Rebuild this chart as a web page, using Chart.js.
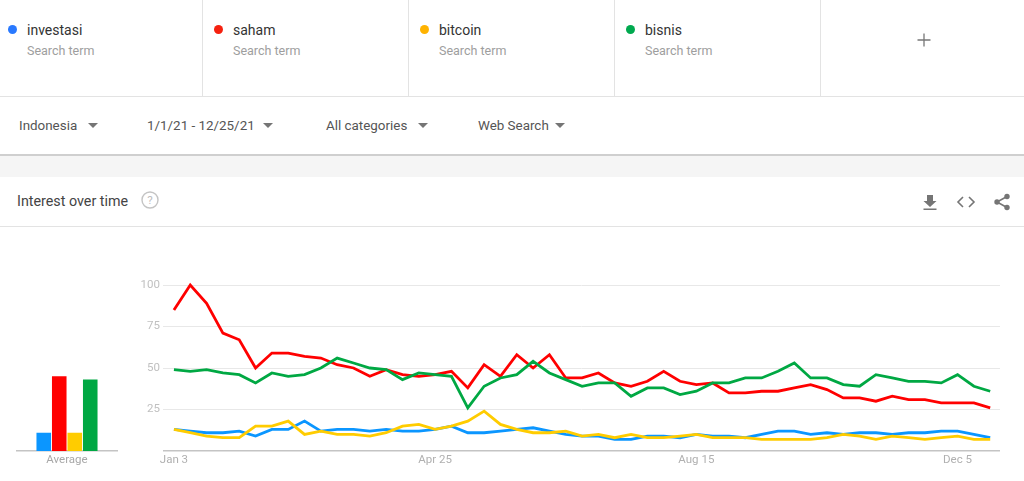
<!DOCTYPE html>
<html>
<head>
<meta charset="utf-8">
<title>Interest over time</title>
<script src="https://cdn.jsdelivr.net/npm/chart.js@4/dist/chart.umd.min.js"></script>
<style>
  html, body { margin: 0; padding: 0; background: #fff; overflow: hidden; }
  body { width: 1024px; height: 481px; position: relative; font-family: Roboto, sans-serif; }
  .abs { position: absolute; white-space: nowrap; }
  .line { position: absolute; background: #e3e3e3; }
  .term { font-size: 14px; line-height: 16px; top: 22px; color: #333; }
  .sub { font-size: 12.5px; line-height: 16px; top: 43px; color: #9e9e9e; }
  .dot { position: absolute; top: 25px; width: 9px; height: 9px; border-radius: 50%; }
  .filter { font-size: 13.4px; line-height: 16px; top: 118px; color: #555; }
  .tri { position: absolute; top: 123px; width: 0; height: 0; border-left: 5px solid transparent; border-right: 5px solid transparent; border-top: 5px solid #757575; }
  canvas { position: absolute; }
</style>
</head>
<body>
  <div class="dot" style="left:7.5px;background:#2979ff"></div>
  <div class="abs term" style="left:27px">investasi</div>
  <div class="abs sub" style="left:27px">Search term</div>
  <div class="dot" style="left:213.5px;background:#f5210f"></div>
  <div class="abs term" style="left:233px">saham</div>
  <div class="abs sub" style="left:233px">Search term</div>
  <div class="dot" style="left:420px;background:#ffb300"></div>
  <div class="abs term" style="left:439px">bitcoin</div>
  <div class="abs sub" style="left:439px">Search term</div>
  <div class="dot" style="left:626px;background:#00a94f"></div>
  <div class="abs term" style="left:645px">bisnis</div>
  <div class="abs sub" style="left:645px">Search term</div>

  <div class="line" style="left:202px;top:0;width:1px;height:96px"></div>
  <div class="line" style="left:408px;top:0;width:1px;height:96px"></div>
  <div class="line" style="left:614px;top:0;width:1px;height:96px"></div>
  <div class="line" style="left:820px;top:0;width:1px;height:96px"></div>
  <div class="line" style="left:0;top:96px;width:1024px;height:1px"></div>
  <svg class="abs" style="left:917px;top:33px" width="14" height="14"><path d="M7 0.5V13.5M0.5 7H13.5" stroke="#777" stroke-width="1.3" fill="none"/></svg>

  <div class="abs filter" style="left:19px">Indonesia</div>
  <div class="tri" style="left:88px"></div>
  <div class="abs filter" style="left:147px">1/1/21 - 12/25/21</div>
  <div class="tri" style="left:263px"></div>
  <div class="abs filter" style="left:326px">All categories</div>
  <div class="tri" style="left:418px"></div>
  <div class="abs filter" style="left:478px">Web Search</div>
  <div class="tri" style="left:555px"></div>

  <div class="line" style="left:0;top:154px;width:1024px;height:2px;background:#cfcfcf"></div>
  <div class="line" style="left:0;top:156px;width:1024px;height:21px;background:#f5f5f5"></div>

  <div class="abs" style="left:17px;top:193px;font-size:14.3px;line-height:16px;color:#444">Interest over time</div>
  <svg class="abs" style="left:141px;top:191px" width="18" height="18">
    <circle cx="9" cy="9" r="8" stroke="#c4c4c4" stroke-width="1.4" fill="none"/>
    <text x="9" y="13" font-size="11.5" font-family="Roboto" text-anchor="middle" fill="#bdbdbd">?</text>
  </svg>
  <svg class="abs" style="left:922px;top:194px" width="16" height="17"><path d="M5 1H11V7H14.5L8 13L1.5 7H5ZM1.5 14.5H14.5V16H1.5Z" fill="#757575"/></svg>
  <svg class="abs" style="left:956px;top:195px" width="20" height="14"><path d="M7 2L2 7L7 12M13 2L18 7L13 12" stroke="#757575" stroke-width="1.6" fill="none"/></svg>
  <svg class="abs" style="left:993px;top:193px" width="18" height="18">
    <path d="M14 3.5L4 9L14 14.5" stroke="#757575" stroke-width="1.6" fill="none"/>
    <circle cx="14" cy="3.5" r="2.7" fill="#757575"/><circle cx="4" cy="9" r="2.7" fill="#757575"/><circle cx="14" cy="14.5" r="2.7" fill="#757575"/>
  </svg>
  <div class="line" style="left:0;top:226px;width:1024px;height:1px"></div>

  <canvas id="avgChart" width="120" height="211" style="left:0;top:270px"></canvas>
  <canvas id="timeChart" width="904" height="211" style="left:120px;top:270px"></canvas>

<script>
const terms = ["investasi", "saham", "bitcoin", "bisnis"];
const lineColors = ["#0b96ff", "#ff0000", "#ffcc00", "#00a843"];

const investasi = [13,12,11,11,12,9,13,13,18,12,13,13,12,13,12,12,13,15,11,11,12,13,14,12,10,9,9,7,7,9,9,8,10,9,9,8,10,12,12,10,11,10,11,11,10,11,11,12,12,10,8];
const saham = [85,100,89,71,67,50,59,59,57,56,52,50,45,49,46,45,46,48,38,52,45,58,50,58,44,44,47,41,39,42,48,42,40,41,35,35,36,36,38,40,37,32,32,30,33,31,31,29,29,29,26];
const bitcoin = [13,11,9,8,8,15,15,18,10,12,10,10,9,11,15,16,13,15,18,24,16,13,11,11,12,9,10,8,10,8,8,9,10,8,8,8,7,7,7,7,8,10,9,7,9,8,7,8,9,7,7];
const bisnis = [49,48,49,47,46,41,47,45,46,50,56,53,50,49,43,47,46,45,26,39,44,46,54,47,43,39,41,41,33,38,38,34,36,41,41,44,44,48,53,44,44,40,39,46,44,42,42,41,46,39,36];
const averages = [11,45,11,43];

const tickWeeks = [0,16,32,48];
const tickLabels = ["Jan 3","Apr 25","Aug 15","Dec 5"];
const yTicks = [0,25,50,75,100];

const tickFont = { family: "Roboto", size: 11.5 };
const series = [investasi, saham, bitcoin, bisnis];

new Chart(document.getElementById("timeChart"), {
  type: "line",
  data: {
    datasets: terms.map((term, i) => ({
      label: term,
      data: series[i].map((v, week) => ({ x: week, y: v })),
      borderColor: lineColors[i],
      borderWidth: 2.8,
      pointRadius: 0,
      tension: 0,
      clip: false,
      // later terms sit on top, chart.js paints low order last
      order: terms.length - i
    }))
  },
  options: {
    responsive: false,
    animation: false,
    layout: { padding: { top: 15, right: 24, left: 0, bottom: 0 } },
    plugins: { legend: { display: false }, tooltip: { enabled: false } },
    scales: {
      x: {
        type: "linear",
        min: -0.67,
        max: 50.6,
        grid: { display: false, drawTicks: false },
        border: { display: false },
        afterBuildTicks: axis => { axis.ticks = tickWeeks.map(w => ({ value: w })); },
        afterFit: axis => { axis.height = 30; },
        ticks: {
          autoSkip: false,
          maxRotation: 0,
          padding: 2,
          color: "#b0b0b0",
          font: tickFont,
          callback: v => tickLabels[tickWeeks.indexOf(v)]
        }
      },
      y: {
        min: 0,
        max: 100,
        border: { display: false },
        afterBuildTicks: axis => { axis.ticks = yTicks.map(v => ({ value: v })); },
        afterFit: axis => { axis.width = 43; },
        grid: {
          drawTicks: false,
          color: c => c.tick.value === 0 ? "#c4c4c4" : "#e8e8e8",
          lineWidth: c => c.tick.value === 0 ? 1.5 : 1
        },
        ticks: {
          padding: 3,
          color: "#c0c0c0",
          font: tickFont,
          callback: v => v === 0 ? "" : v
        }
      }
    }
  }
});

new Chart(document.getElementById("avgChart"), {
  type: "bar",
  data: {
    labels: ["Average"],
    datasets: terms.map((term, i) => ({
      label: term,
      data: [averages[i]],
      backgroundColor: lineColors[i],
      categoryPercentage: 0.62,
      barPercentage: 0.94
    }))
  },
  options: {
    responsive: false,
    animation: false,
    layout: { padding: { top: 15, right: 3, left: 17, bottom: 0 } },
    plugins: { legend: { display: false }, tooltip: { enabled: false } },
    scales: {
      x: {
        border: { color: "#c4c4c4", width: 1.5 },
        grid: { display: false, drawTicks: false },
        afterFit: axis => { axis.height = 30; },
        ticks: { padding: 2, color: "#a8a8a8", font: { family: "Roboto", size: 11.5 } }
      },
      y: { min: 0, max: 100, display: false }
    }
  }
});
</script>
</body>
</html>
